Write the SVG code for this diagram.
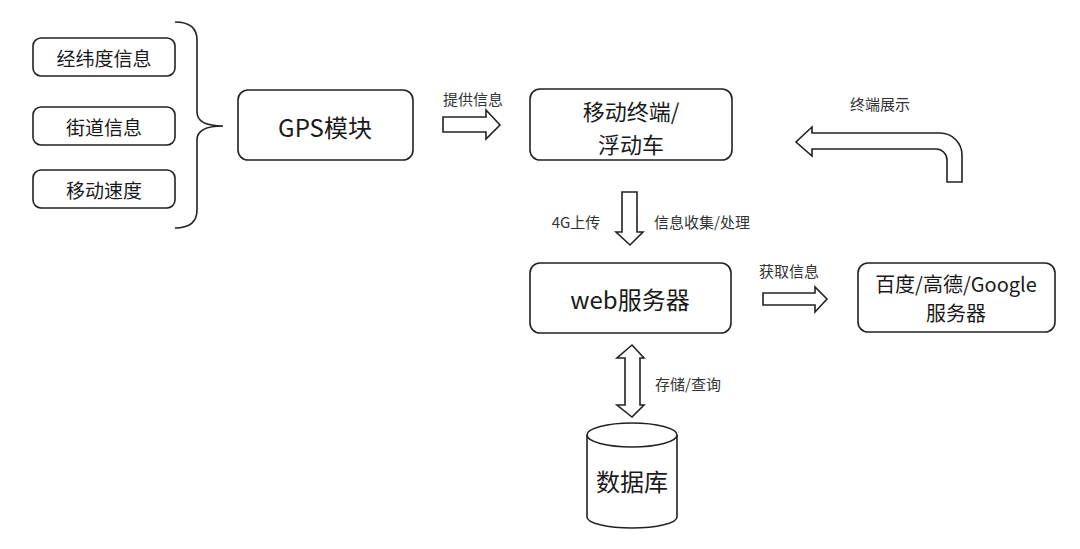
<svg xmlns="http://www.w3.org/2000/svg" width="1080" height="549" viewBox="0 0 1080 549">
<style>
.box{fill:#fff;stroke:#222;stroke-width:1.6}
.ln{fill:none;stroke:#222;stroke-width:1.6}
.ar{fill:#fff;stroke:#222;stroke-width:1.6;stroke-linejoin:miter}
text{font-family:"Noto Sans CJK SC","Liberation Sans",sans-serif;fill:#1a1a1a;text-anchor:middle;dominant-baseline:central}
.t19{font-size:19px}
.t24{font-size:24px}
.t22{font-size:22px}
.t20{font-size:20px}
.lb{font-size:15px;fill:#333}
</style>
<rect width="1080" height="549" fill="#fff"/>
<g id="n-latlon"><rect class="box" x="33" y="38" width="142" height="38" rx="8"/><text class="t19" x="104" y="57">经纬度信息</text></g>
<g id="n-street"><rect class="box" x="33" y="107" width="142" height="38" rx="8"/><text class="t19" x="104" y="126">街道信息</text></g>
<g id="n-speed"><rect class="box" x="33" y="170" width="142" height="38" rx="8"/><text class="t19" x="104" y="189">移动速度</text></g>
<g id="n-gps"><rect class="box" x="238" y="90" width="175" height="70" rx="10"/><text class="t24" x="325" y="126">GPS模块</text></g>
<g id="n-mobile"><rect class="box" x="530" y="89" width="202" height="71" rx="10"/><text class="t22" x="631" y="110">移动终端/</text><text class="t22" x="631" y="143">浮动车</text></g>
<g id="n-web"><rect class="box" x="530" y="263" width="201" height="70" rx="10"/><text class="t24" x="630" y="298">web服务器</text></g>
<g id="n-map"><rect class="box" x="858" y="263" width="197" height="69" rx="10"/><text class="t20" x="956" y="283">百度/高德/Google</text><text class="t20" x="956" y="312">服务器</text></g>
<g id="n-db"><path class="box" d="M587 435 V517 A45 11 0 0 0 677 517 V435"/><ellipse class="box" cx="632" cy="435" rx="45" ry="12"/><text class="t24" x="632" y="480">数据库</text></g>
<g id="connectors">
<path class="ln" d="M175 22 Q197 22 197 40 V112 Q197 126 223 126 Q197 126 197 140 V210 Q197 228 175 228"/>
<path class="ar" d="M443 117 H486 V110 L500 125 L486 139 V132 H443 Z"/>
<text class="lb" x="473" y="98">提供信息</text>
<path class="ar" d="M812 133 H940 A22 22 0 0 1 962 155 V182 H947 V160 A11 11 0 0 0 936 149 H812 V156 L796 142 L812 127 Z"/>
<text class="lb" x="880" y="103">终端展示</text>
<path class="ar" d="M622 192 H637 V232 H643 L630 245 L616 232 H622 Z"/>
<text class="lb" x="576" y="221">4G上传</text>
<text class="lb" x="702" y="221">信息收集/处理</text>
<path class="ar" d="M763 293 H815 V287 L827 299 L815 312 V305 H763 Z"/>
<text class="lb" x="789" y="270">获取信息</text>
<path class="ar" d="M632 345 L644 358 H640 V405 H644 L632 417 L617 405 H625 V358 H617 Z"/>
<text class="lb" x="688" y="383">存储/查询</text>
</g>
</svg>
